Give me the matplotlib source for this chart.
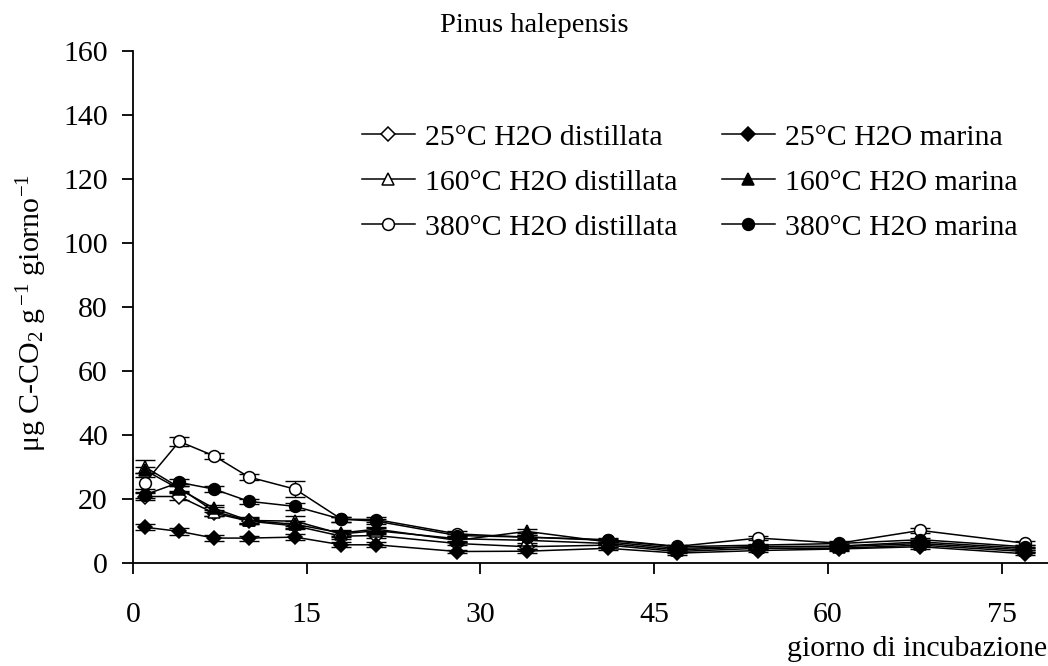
import matplotlib
matplotlib.use("Agg")
import matplotlib.pyplot as plt

plt.rcParams['font.family'] = ['Liberation Serif', 'DejaVu Serif']
plt.rcParams['mathtext.fontset'] = 'custom'
plt.rcParams['mathtext.rm'] = 'Liberation Serif'
plt.rcParams['mathtext.it'] = 'Liberation Serif:italic'

days = [1, 4, 7, 10, 14, 18, 21, 28, 34, 41, 47, 54, 61, 68, 77]

d25_dist = [20.7, 20.7, 15.5, 13.0, 11.5, 8.3, 8.5, 6.0, 5.0, 5.5, 3.5, 4.5, 4.5, 5.5, 3.5]
d25_mar = [11.1, 9.8, 7.7, 7.7, 8.0, 5.6, 5.6, 3.5, 3.6, 4.5, 3.0, 3.8, 4.3, 5.0, 2.8]
d160_dist = [30.0, 23.5, 16.0, 13.2, 13.0, 9.0, 10.0, 7.5, 7.0, 6.0, 4.0, 5.0, 5.0, 6.0, 4.0]
d160_mar = [29.0, 23.0, 17.0, 13.2, 12.0, 9.3, 10.5, 7.0, 9.8, 6.5, 4.5, 5.0, 5.2, 6.5, 4.5]
d380_dist = [24.9, 37.9, 33.4, 26.8, 23.0, 13.6, 13.5, 9.0, 8.0, 7.2, 5.1, 7.7, 6.1, 10.1, 6.1]
d380_mar = [21.2, 25.1, 23.0, 19.2, 17.6, 13.6, 13.0, 8.5, 8.0, 7.0, 5.0, 5.5, 6.0, 7.2, 5.0]

err_380_dist = [2.0, 1.5, 1.0, 1.0, 2.5, 0.8, 0.8, 0.8, 0.6, 0.6, 0.5, 0.6, 0.6, 0.8, 0.6]
err_160_dist = [2.0, 1.0, 1.5, 1.0, 1.5, 1.0, 1.0, 0.8, 0.8, 0.6, 0.5, 0.6, 0.6, 0.8, 0.6]
err_other = [1.0, 1.0, 1.0, 0.8, 1.0, 0.8, 0.8, 0.6, 0.6, 0.5, 0.5, 0.5, 0.5, 0.6, 0.5]

labels = ["25°C H2O distillata", "160°C H2O distillata", "380°C H2O distillata",
          "25°C H2O marina", "160°C H2O marina", "380°C H2O marina"]

FS = 21.5

fig = plt.figure(figsize=(10.48, 6.66), dpi=100)
ax = fig.add_axes([0.1269, 0.1551, 0.884, 0.7683])

series = [
    (d25_dist, err_other, 'D', 'white', 7.5),
    (d160_dist, err_160_dist, '^', 'white', 8.5),
    (d380_dist, err_380_dist, 'o', 'white', 8.5),
    (d25_mar, err_other, 'D', 'black', 7.5),
    (d160_mar, err_other, '^', 'black', 8.5),
    (d380_mar, err_other, 'o', 'black', 8.5),
]

handles = []
for (vals, err, mk, fc, ms), lab in zip(series, labels):
    ax.errorbar(days, vals, yerr=err, fmt='none', ecolor='black',
                elinewidth=1, capsize=7, capthick=1, zorder=2)
    h, = ax.plot(days, vals, color='black', lw=1.1, marker=mk, ms=ms,
                 mfc=fc, mec='black', mew=1.1, label=lab, zorder=3)
    handles.append(h)

ax.set_xlim(0, 80)
ax.set_ylim(0, 160)
ax.set_xticks([0, 15, 30, 45, 60, 75])
ax.set_yticks(range(0, 161, 20))
ax.tick_params(direction='out', length=8, width=1.3, labelsize=FS)
ax.tick_params(axis='y', pad=10)
ax.tick_params(axis='x', pad=20)
for s in ['top', 'right']:
    ax.spines[s].set_visible(False)
for s in ['left', 'bottom']:
    ax.spines[s].set_linewidth(1.3)

fig.text(32 / 1048, 1 - 313 / 666,
         r"$\mathrm{\mu}$g C-CO$_2$ g$^{\, {-1}}$ giorno$^{-1}$",
         fontsize=FS, rotation=90, ha='center', va='center')
fig.text(1047 / 1048, 1 - 649 / 666, "giorno di incubazione",
         fontsize=FS, ha='right', va='center')
fig.text(534 / 1048, 1 - 26 / 666, "Pinus halepensis",
         fontsize=20.5, ha='center', va='center')

fig.legend(handles=handles, ncol=2, frameon=False, fontsize=FS,
           loc='upper left', bbox_to_anchor=(362 / 1048, 1 - 124 / 666),
           borderpad=0, borderaxespad=0,
           handlelength=1.77, handletextpad=0.33, columnspacing=1.5,
           labelspacing=0.6)

fig.savefig("out.png", dpi=100)
